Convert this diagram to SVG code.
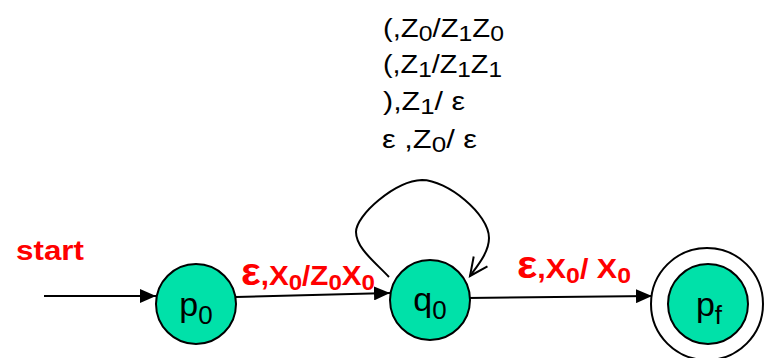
<svg xmlns="http://www.w3.org/2000/svg" width="764" height="358" viewBox="0 0 764 358">
<style>
.node{fill:#00E1A9;stroke:#000;stroke-width:2}
.ring{fill:none;stroke:#000;stroke-width:2}
.lbl{font-family:"Liberation Sans",Arial,sans-serif;font-size:34px;fill:#000}
.loop{font-family:"Liberation Sans",Arial,sans-serif;font-size:26px;fill:#000}
.red{font-family:"Liberation Sans",Arial,sans-serif;font-weight:bold;font-size:27px;fill:#FF0000}
.edge{fill:none;stroke:#000;stroke-width:2}
</style>
<defs>
<marker id="arr" viewBox="0 0 16 14" refX="16" refY="7" markerWidth="16" markerHeight="14" markerUnits="userSpaceOnUse" orient="auto">
<path d="M0,0 L16,7 L0,14 z" fill="#000"/>
</marker>
<marker id="open" viewBox="0 0 22 22" refX="20" refY="11" markerWidth="22" markerHeight="22" markerUnits="userSpaceOnUse" orient="auto" overflow="visible">
<path d="M2,2.5 L20,11 L2,19.5" fill="none" stroke="#000" stroke-width="2"/>
</marker>
</defs>
<g id="connectors">
<path class="edge" d="M44,296 L156,296" marker-end="url(#arr)"/>
<path class="edge" d="M236,297 L390,293" marker-end="url(#arr)"/>
<path class="edge" d="M467,298 L652,296" marker-end="url(#arr)"/>
<path class="edge" d="M389,277 C375,262 356,248 356,232 C356,215 395,181 422,180 C447,180 489,214 489,238 C489,252 478,265 470,276" marker-end="url(#open)"/>
</g>
<g id="labels">
<text class="red" x="16" y="260" textLength="68" lengthAdjust="spacingAndGlyphs" font-size="30">start</text>
<text class="red" x="241" y="285" textLength="134" lengthAdjust="spacingAndGlyphs"><tspan font-size="38">ε</tspan>,X<tspan font-size="22" dy="5">0</tspan><tspan dy="-5">/Z</tspan><tspan font-size="22" dy="5">0</tspan><tspan dy="-5">X</tspan><tspan font-size="22" dy="5">0</tspan></text>
<text class="red" x="517" y="278" textLength="114" lengthAdjust="spacingAndGlyphs"><tspan font-size="38">ε</tspan>,X<tspan font-size="22" dy="5">0</tspan><tspan dy="-5">/ X</tspan><tspan font-size="22" dy="5">0</tspan></text>
<text class="loop" x="383" y="37" textLength="121" lengthAdjust="spacingAndGlyphs">(,Z<tspan font-size="22" dy="4">0</tspan><tspan dy="-4">/Z</tspan><tspan font-size="22" dy="4">1</tspan><tspan dy="-4">Z</tspan><tspan font-size="22" dy="4">0</tspan></text>
<text class="loop" x="383" y="73" textLength="119" lengthAdjust="spacingAndGlyphs">(,Z<tspan font-size="22" dy="4">1</tspan><tspan dy="-4">/Z</tspan><tspan font-size="22" dy="4">1</tspan><tspan dy="-4">Z</tspan><tspan font-size="22" dy="4">1</tspan></text>
<text class="loop" x="383" y="110" textLength="82" lengthAdjust="spacingAndGlyphs">),Z<tspan font-size="22" dy="4">1</tspan><tspan dy="-4">/ ε</tspan></text>
<text class="loop" x="382" y="148" textLength="95" lengthAdjust="spacingAndGlyphs">ε ,Z<tspan font-size="22" dy="4">0</tspan><tspan dy="-4">/ ε</tspan></text>
</g>
<g id="p0">
<circle class="node" cx="196" cy="304" r="40"/>
<text class="lbl" x="196" y="316" text-anchor="middle">p<tspan font-size="26" dy="8">0</tspan></text>
</g>
<g id="q0">
<circle class="node" cx="430" cy="300" r="40"/>
<text class="lbl" x="430" y="311" text-anchor="middle">q<tspan font-size="26" dy="8">0</tspan></text>
</g>
<g id="pf">
<circle class="ring" cx="707" cy="304" r="56"/>
<circle class="node" cx="708" cy="304" r="40"/>
<text class="lbl" x="709" y="316" text-anchor="middle">p<tspan font-size="26" dy="8">f</tspan></text>
</g>
</svg>
